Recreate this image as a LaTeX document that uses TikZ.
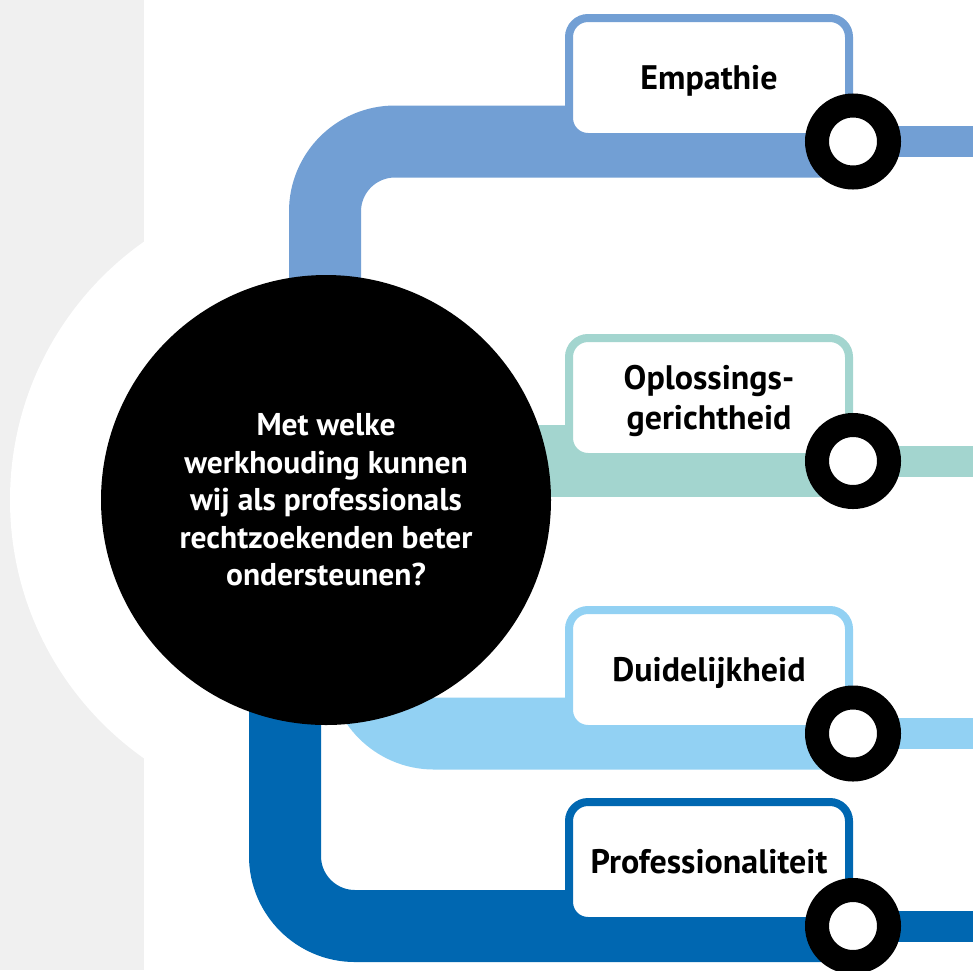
\documentclass[tikz,border=0pt]{standalone}
\usepackage{fontspec}
\setmainfont{PT Sans}
\usetikzlibrary{backgrounds}
\definecolor{cA}{HTML}{729FD4}
\definecolor{cB}{HTML}{A3D5CF}
\definecolor{cC}{HTML}{92D1F3}
\definecolor{cD}{HTML}{0067B1}
\definecolor{bgray}{HTML}{F0F0F0}
\tikzset{
  band/.style={line width=72pt, rounded corners=70pt, line cap=butt},
  tail/.style={line width=31pt, line cap=butt},
  labelbox/.style={draw=#1, line width=8pt, fill=white, rounded corners=19pt,
    minimum width=280pt, minimum height=119pt, inner sep=0pt, align=center,
    text depth=0pt, font=\bfseries\fontsize{34}{40}\selectfont},
  ring/.style={circle, draw=black, line width=24pt, fill=white, minimum size=72pt, inner sep=0pt},
}
\begin{document}
\begin{tikzpicture}[x=1pt,y=-1pt]
\useasboundingbox (0,0) rectangle (973,970);
% central question
\node[circle, fill=black, minimum size=450pt, inner sep=0pt, text=white, align=center,
  font=\bfseries\fontsize{31.5}{37.5}\selectfont] (q) at (326,500)
  {Met welke\\werkhouding kunnen\\wij als professionals\\rechtzoekenden beter\\ondersteunen?};
% label boxes
\node[labelbox=cA] (b1) at (709,77.5) {Empathie};
\node[labelbox=cB] (b2) at (709,397.5) {Oplossings-\\gerichtheid};
\node[labelbox=cC] (b3) at (709,669.5) {Duidelijkheid};
\node[labelbox=cD] (b4) at (709,861.5) {Professionaliteit};
% rings
\node[ring] (r1) at (853,141.5) {};
\node[ring] (r2) at (853,461) {};
\node[ring] (r3) at (853,733.5) {};
\node[ring] (r4) at (853,926) {};
% start / end points
\coordinate (s1) at (325,480);
\coordinate (s2) at (326,461);
\coordinate (s3) at (364,600);
\coordinate (s4) at (285,520);
\coordinate (e1) at (973,141.5);
\coordinate (e2) at (973,461);
\coordinate (e3) at (973,733.5);
\coordinate (e4) at (973,926);
\begin{scope}[on background layer]
  \fill[bgray] (0,0) rectangle (144,970);
  \fill[white] (326,500) circle[radius=316];
  \draw[band, cA] (s1) |- (r1.center);
  \draw[band, cB] (s2) -- (r2.center);
  \draw[band, cC] (s3) |- (r3.center);
  \draw[band, cD] (s4) |- (r4.center);
  \draw[tail, cA] (r1.center) -- (e1);
  \draw[tail, cB] (r2.center) -- (e2);
  \draw[tail, cC] (r3.center) -- (e3);
  \draw[tail, cD] (r4.center) -- (e4);
\end{scope}
\end{tikzpicture}
\end{document}
